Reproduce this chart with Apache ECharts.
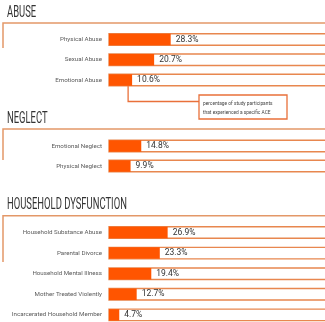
<!DOCTYPE html>
<html><head><meta charset="utf-8">
<script src="https://cdn.jsdelivr.net/npm/echarts@6/dist/echarts.min.js"></script>
<style>html,body{margin:0;padding:0;background:#fff}#c{width:325px;height:322px}</style>
</head><body><div id="c"></div>
<script>
var sectionTitles = ['ABUSE', 'NEGLECT', 'HOUSEHOLD DYSFUNCTION'];
var abuseCats = ['Physical Abuse', 'Sexual Abuse', 'Emotional Abuse'];
var abuseVals = [28.3, 20.7, 10.6];
var neglectCats = ['Emotional Neglect', 'Physical Neglect'];
var neglectVals = [14.8, 9.9];
var householdCats = ['Household Substance Abuse', 'Parental Divorce', 'Household Mental Illness', 'Mother Treated Violently', 'Incarcerated Household Member'];
var householdVals = [26.9, 23.3, 19.4, 12.7, 4.7];
var noteLines = ['percentage of study participants', 'that experienced a specific ACE'];

var FONT = 'Roboto, "Liberation Sans", sans-serif';
var ORANGE = '#FF5500';
var OUTLINE = '#E8874F';
var BRACKET = '#E39868';

var cats = [abuseCats, neglectCats, householdCats];
var vals = [abuseVals, neglectVals, householdVals];
var grids = [
  {left: 109, right: -2, top: 29.4, height: 60.75, containLabel: false, outerBoundsMode: 'none'},
  {left: 109, right: -2, top: 136, height: 40, containLabel: false, outerBoundsMode: 'none'},
  {left: 109, right: -2, top: 222.2, height: 103, containLabel: false, outerBoundsMode: 'none'}
];

var xAxes = [], yAxes = [], series = [];
for (var i = 0; i < 3; i++) {
  xAxes.push({type: 'value', gridIndex: i, min: 0, max: 100, show: false});
  yAxes.push({type: 'category', gridIndex: i, data: cats[i], inverse: true,
    axisLine: {show: false}, axisTick: {show: false},
    axisLabel: {fontSize: 6.2, color: '#5a5a5a', margin: 7, fontFamily: FONT}});
  series.push({type: 'bar', xAxisIndex: i, yAxisIndex: i, data: vals[i], barWidth: 11.5,
    itemStyle: {color: ORANGE},
    showBackground: true,
    backgroundStyle: {color: '#fff', borderColor: OUTLINE, borderWidth: 1.4},
    label: {show: true, position: 'right', distance: 5, fontSize: 8.5, color: '#333', fontFamily: FONT,
      formatter: function (p) { return p.value.toFixed(1) + '%'; }},
    silent: true, animation: false});
}

var titleY = [5, 111, 197];
var bracket = [[23, 48], [129, 160], [215.7, 262]];

var graphics = [];
for (var k = 0; k < 3; k++) {
  graphics.push({type: 'text', x: 7, y: titleY[k], scaleX: 0.59,
    style: {text: sectionTitles[k], x: 0, y: 0, verticalAlign: 'top', fontSize: 16, fill: '#333', fontFamily: FONT}});
  graphics.push({type: 'polyline', shape: {points: [[3, bracket[k][1]], [3, bracket[k][0]], [330, bracket[k][0]]]},
    style: {stroke: BRACKET, lineWidth: 1.5, fill: null}, z: -1});
}

var chart = echarts.init(document.getElementById('c'), null, {renderer: 'canvas'});
chart.setOption({
  animation: false,
  grid: grids, xAxis: xAxes, yAxis: yAxes, series: series, graphic: graphics
});

// annotation connected to the Emotional Abuse bar
var p = chart.convertToPixel({xAxisIndex: 0, yAxisIndex: 0}, [abuseVals[2], abuseCats[2]]);
var cx = p[0] - 4, cy = p[1] + 6;
var boxX = 199, boxY = 95, boxW = 88, boxH = 24;
graphics.push({type: 'polyline', shape: {points: [[cx, cy], [cx, boxY + 6.5], [boxX, boxY + 6.5]]},
  style: {stroke: '#E9703A', lineWidth: 1.3, fill: null}});
graphics.push({type: 'rect', shape: {x: boxX, y: boxY, width: boxW, height: boxH},
  style: {stroke: '#E9703A', lineWidth: 1.3, fill: '#fff'}});
graphics.push({type: 'text', x: boxX + 4, y: boxY + 4, scaleX: 0.78,
  style: {text: noteLines.join('\n'), x: 0, y: 0, verticalAlign: 'top', fontSize: 6.2, lineHeight: 9, fill: '#444', fontFamily: FONT}});
chart.setOption({graphic: graphics});
</script></body></html>
